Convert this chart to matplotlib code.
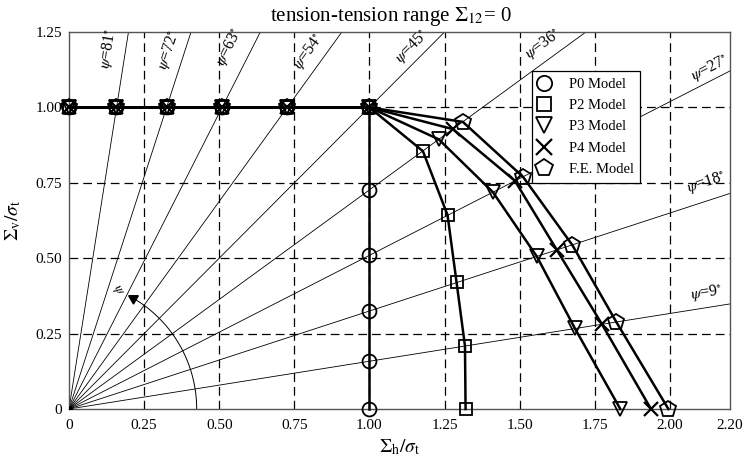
import numpy as np
import matplotlib
matplotlib.use("Agg")
import matplotlib.pyplot as plt

plt.rcParams['font.family'] = ['Liberation Serif', 'DejaVu Serif']
plt.rcParams['mathtext.fontset'] = 'stix'

# angles of the radial load paths (deg)
psi_angles = [9, 18, 27, 36, 45, 54, 63, 72, 81]

# shared part along Sigma_v = 1
top_x = [0, 0.158, 0.325, 0.51, 0.727, 1.0]
top_y = [1, 1, 1, 1, 1, 1]

p0_x = top_x + [1.0, 1.0, 1.0, 1.0, 1.0]
p0_y = top_y + [0.727, 0.51, 0.325, 0.158, 0.0]

p2_x = top_x + [1.178, 1.26, 1.29, 1.318, 1.32]
p2_y = top_y + [0.855, 0.643, 0.42, 0.209, 0.0]

p3_x = top_x + [1.231, 1.411, 1.557, 1.684, 1.835]
p3_y = top_y + [0.894, 0.719, 0.506, 0.267, 0.0]

p4_x = top_x + [1.278, 1.484, 1.624, 1.774, 1.937]
p4_y = top_y + [0.928, 0.757, 0.527, 0.281, 0.0]

fe_x = top_x + [1.311, 1.511, 1.675, 1.822, 1.995]
fe_y = top_y + [0.952, 0.77, 0.544, 0.288, 0.0]

xticks = [0, 0.25, 0.5, 0.75, 1.0, 1.25, 1.5, 1.75, 2.0, 2.2]
xticklabels = ['0', '0.25', '0.50', '0.75', '1.00', '1.25', '1.50', '1.75', '2.00', '2.20']
yticks = [0, 0.25, 0.5, 0.75, 1.0, 1.25]
yticklabels = ['0', '0.25', '0.50', '0.75', '1.00', '1.25']

# label positions for the psi lines (centre of the label)
lab_pos = {81: (0.146, 1.193), 72: (0.346, 1.186), 63: (0.546, 1.193),
           54: (0.809, 1.176), 45: (1.151, 1.193), 36: (1.584, 1.199),
           27: (2.14, 1.12), 18: (2.126, 0.738), 9: (2.123, 0.372)}

fig = plt.figure(figsize=(7.49, 4.66), dpi=100)
ax = fig.add_axes([0.0921, 0.1223, 0.8825, 0.809])
ax.set_xlim(0, 2.2)
ax.set_ylim(0, 1.25)

# grid
for g in [0.25, 0.5, 0.75, 1.0, 1.25, 1.5, 1.75, 2.0]:
    ax.axvline(g, color='k', lw=0.9, ls=(0, (7, 4)), zorder=1)
for g in [0.25, 0.5, 0.75, 1.0]:
    ax.axhline(g, color='k', lw=0.9, ls=(0, (7, 4)), zorder=1)

# radial lines
for a in psi_angles:
    r = 3.0
    ax.plot([0, r*np.cos(np.radians(a))], [0, r*np.sin(np.radians(a))], color='k', lw=0.6, zorder=2)
    ox, oy = -np.sin(np.radians(a))*3, np.cos(np.radians(a))*3
    ax.annotate(r'$\psi$=%d$^{\circ}$' % a, lab_pos[a], xytext=(ox, oy), textcoords='offset points',
                rotation=a, rotation_mode='anchor', ha='center', va='center',
                fontsize=11.5, zorder=3)

# angle arc
th = np.linspace(0, np.radians(60), 60)
ax.plot(0.425*np.cos(th), 0.425*np.sin(th), color='k', lw=0.7, zorder=2)
ax.plot([0.425*np.cos(np.radians(60))], [0.425*np.sin(np.radians(60))], marker=(3, 0, 60),
        color='k', ms=8, zorder=4)
ax.text(0.16, 0.392, r'$\psi$', rotation=-60, fontsize=10, ha='center', va='center')
ax.plot([0], [0], marker='o', color='k', ms=4, zorder=4)

kw = dict(color='k', lw=1.8, mfc='none', mec='k', mew=1.3, ms=10, zorder=5, clip_on=False)
ax.plot(p0_x, p0_y, marker='o', label='P0 Model', **kw)
ax.plot(p2_x, p2_y, marker='s', label='P2 Model', **dict(kw, ms=9))
ax.plot(p3_x, p3_y, marker='v', label='P3 Model', **kw)
ax.plot(p4_x, p4_y, marker='x', label='P4 Model', **dict(kw, mew=1.6))
ax.plot(fe_x, fe_y, marker='p', label='F.E. Model', **dict(kw, ms=12))

leg = ax.legend(loc='upper left', bbox_to_anchor=(0.70, 0.897), borderaxespad=0, fontsize=10.5,
                frameon=True, fancybox=False, edgecolor='k', framealpha=1, handlelength=0.8,
                handletextpad=1.3, labelspacing=0.56, borderpad=0.45, markerscale=1.1)
leg.get_frame().set_linewidth(0.9)
for h in leg.legend_handles:
    h.set_linestyle('none')

ax.set_xticks(xticks)
ax.set_xticklabels(xticklabels, fontsize=11)
ax.set_yticks(yticks)
ax.set_yticklabels(yticklabels, fontsize=11)
ax.tick_params(axis='y', length=0, pad=5)
ax.tick_params(axis='x', length=0, pad=7)
for s in ax.spines.values():
    s.set_color('#555555')
    s.set_linewidth(1.0)

ax.set_xlabel(r'$\Sigma_{\rm h}/\sigma_{\rm t}$', fontsize=14, labelpad=4)
ax.set_ylabel(r'$\Sigma_{\rm v}/\sigma_{\rm t}$', fontsize=14, labelpad=9)
ax.set_title(r'tension-tension range $\Sigma_{12}$= 0', fontsize=15, pad=8, x=0.487)

fig.savefig('out.png', dpi=100)
